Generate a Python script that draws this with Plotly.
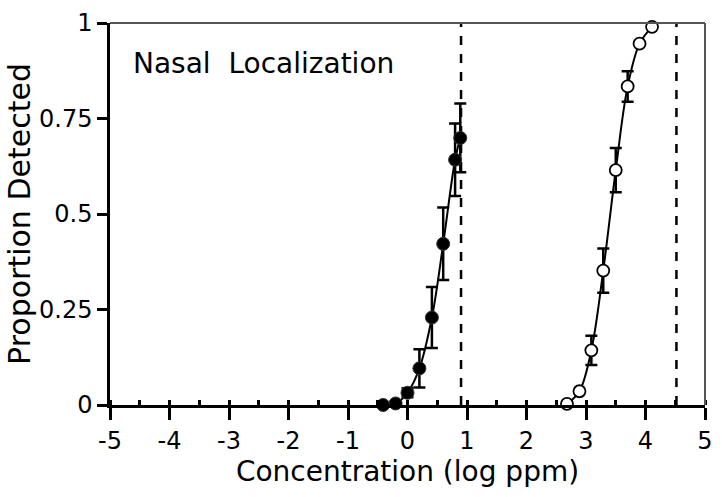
import plotly.graph_objects as go

# Nasal localization, closed circles (left series)
closed_x = [-0.41, -0.20, 0.00, 0.20, 0.41, 0.60, 0.80, 0.887]
closed_y = [0.000, 0.004, 0.032, 0.096, 0.229, 0.422, 0.642, 0.699]
closed_err = [0.0, 0.0, 0.012, 0.05, 0.08, 0.095, 0.095, 0.09]

# Open circles (right series)
open_x = [2.68, 2.89, 3.09, 3.29, 3.50, 3.70, 3.90, 4.11]
open_y = [0.003, 0.036, 0.143, 0.352, 0.615, 0.834, 0.946, 0.990]
open_err = [0.0, 0.0, 0.038, 0.058, 0.058, 0.04, 0.0, 0.0]

# Vertical dashed reference lines (log ppm)
ref_lines = [0.90, 4.52]

x_ticks = [-5, -4, -3, -2, -1, 0, 1, 2, 3, 4, 5]
x_labels = ["-5", "-4", "-3", "-2", "-1", "0", "1", "2", "3", "4", "5"]
y_ticks = [0, 0.25, 0.5, 0.75, 1]
y_labels = ["0", "0.25", "0.5", "0.75", "1"]

FONT = "DejaVu Sans"

fig = go.Figure()

for xs, ys in [(closed_x, closed_y), (open_x, open_y)]:
    fig.add_trace(go.Scatter(x=xs, y=ys, mode="lines",
                             line=dict(color="black", width=2, shape="spline", smoothing=1.0),
                             cliponaxis=False, hoverinfo="skip", showlegend=False))

fig.add_trace(go.Scatter(
    x=closed_x, y=closed_y, mode="markers",
    marker=dict(size=13, color="black", line=dict(color="#333", width=1)),
    error_y=dict(type="data", array=closed_err, visible=True, color="black",
                 thickness=2.5, width=6),
    cliponaxis=False, showlegend=False))

fig.add_trace(go.Scatter(
    x=open_x, y=open_y, mode="markers",
    marker=dict(size=12, color="white", line=dict(color="black", width=1.8)),
    error_y=dict(type="data", array=open_err, visible=True, color="black",
                 thickness=2.5, width=6),
    cliponaxis=False, showlegend=False))

for xv in ref_lines:
    fig.add_shape(type="line", x0=xv, x1=xv, y0=0, y1=1, xref="x", yref="y",
                  line=dict(color="black", width=2.5, dash="dash"), layer="below")

# top and right frame lines
fig.add_shape(type="line", x0=0, x1=1, y0=1, y1=1, xref="paper", yref="paper",
              line=dict(color="#555", width=2))
fig.add_shape(type="line", x0=1, x1=1, y0=0, y1=1, xref="paper", yref="paper",
              line=dict(color="#555", width=2))

fig.add_annotation(text="Nasal  Localization", x=0.036, y=0.893, xref="paper", yref="paper",
                   xanchor="left", yanchor="middle", showarrow=False,
                   font=dict(family=FONT, size=28, color="black"))

fig.update_layout(
    width=722, height=497,
    margin=dict(l=110, r=9, t=22, b=92),
    paper_bgcolor="white", plot_bgcolor="white",
    font=dict(family=FONT, color="black"),
    xaxis=dict(range=[-5, 5], tickvals=x_ticks, ticktext=x_labels, ticks="outside", ticklen=12,
               tickwidth=2.5, tickcolor="black", showline=True, linecolor="black", linewidth=2.5,
               showgrid=False, zeroline=False, tickfont=dict(size=24, family=FONT),
               minor=dict(ticks="inside", ticklen=5, tickwidth=2.5, tickcolor="black", dtick=0.5),
               title=dict(text="Concentration (log ppm)", font=dict(size=28, family=FONT), standoff=6)),
    yaxis=dict(range=[0, 1], tickvals=y_ticks, ticktext=y_labels, ticks="outside", ticklen=10,
               tickwidth=2.5, tickcolor="black", showline=True, linecolor="black", linewidth=2.5,
               showgrid=False, zeroline=False, tickfont=dict(size=24, family=FONT),
               title=dict(text="Proportion Detected", font=dict(size=30, family=FONT), standoff=0)),
)

fig.write_html("out.html")
